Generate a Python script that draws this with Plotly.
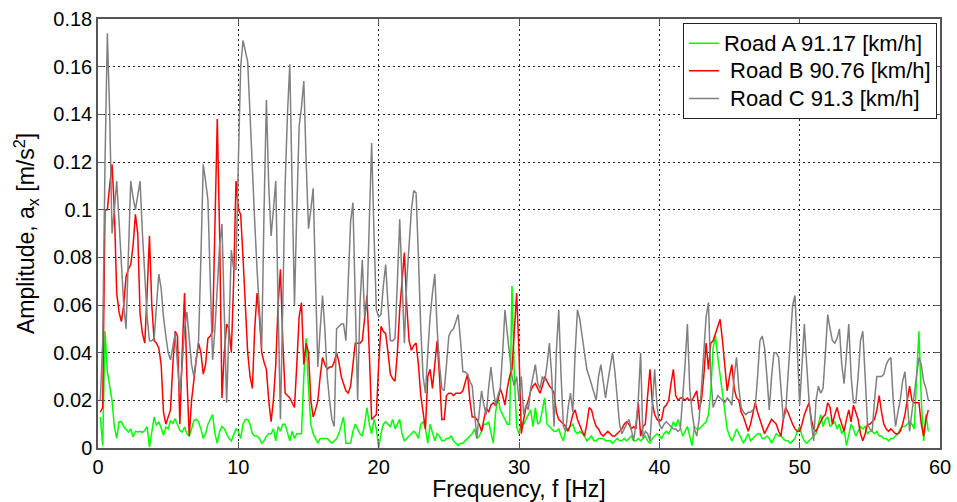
import numpy as np
import plotly.graph_objects as go

# Spectrum resolution of the acceleration FFT (Hz per bin)
df = 1.0 / 6.0

# Amplitude spectra, a_x [m/s^2], one value per bin starting at df
road_a = [
    0.013, 0.001, 0.049, 0.032, 0.026, 0.02,
    0.009, 0.004, 0.011, 0.011, 0.009, 0.008,
    0.0067, 0.008, 0.0046, 0.007, 0.0067, 0.007,
    0.0065, 0.0074, 0.009, 0.0004, 0.006, 0.013,
    0.0095, 0.011, 0.0084, 0.0053, 0.0088, 0.008,
    0.0116, 0.0102, 0.0123, 0.0095, 0.0074, 0.0067,
    0.0088, 0.006, 0.005, 0.008, 0.0116, 0.012,
    0.011, 0.008, 0.004, 0.006, 0.01, 0.012,
    0.014, 0.006, 0.002, 0.007, 0.009, 0.008,
    0.006, 0.004, 0.003, 0.006, 0.008, 0.007,
    0.004, 0.01, 0.012, 0.012, 0.01, 0.006,
    0.005, 0.005, 0.004, 0.002, 0.003, 0.005,
    0.006, 0.006, 0.008, 0.003, 0.009, 0.007,
    0.01, 0.01, 0.006, 0.003, 0.007, 0.004,
    0.006, 0.006, 0.006, 0.03, 0.046, 0.025,
    0.01, 0.006, 0.004, 0.002, 0.004, 0.004,
    0.004, 0.004, 0.003, 0.002, 0.003, 0.004,
    0.006, 0.01, 0.013, 0.002, 0.002, 0.002,
    0.007, 0.01, 0.008, 0.006, 0.005, 0.01,
    0.017, 0.01, 0.006, 0.012, 0.008, 0.0,
    0.006, 0.01, 0.011, 0.01, 0.009, 0.012,
    0.008, 0.01, 0.012, 0.006, 0.003, 0.004,
    0.005, 0.006, 0.007, 0.006, 0.004, 0.01,
    0.011, 0.008, 0.002, 0.01, 0.007, 0.003,
    0.006, 0.005, 0.003, 0.003, 0.004, 0.004,
    0.005, 0.003, 0.002, 0.001, 0.002, 0.002,
    0.003, 0.004, 0.005, 0.006, 0.008, 0.004,
    0.005, 0.007, 0.01, 0.01, 0.011, 0.006,
    0.002, 0.015, 0.021, 0.016, 0.014, 0.012,
    0.01, 0.01, 0.068, 0.03, 0.009, 0.006,
    0.011, 0.01, 0.012, 0.014, 0.016, 0.009,
    0.017, 0.01, 0.011, 0.016, 0.021, 0.01,
    0.009, 0.008, 0.007, 0.007, 0.008, 0.005,
    0.003, 0.008, 0.008, 0.009, 0.01, 0.007,
    0.006, 0.007, 0.006, 0.005, 0.003, 0.004,
    0.005, 0.003, 0.003, 0.004, 0.004, 0.004,
    0.003, 0.003, 0.003, 0.002, 0.003, 0.004,
    0.003, 0.003, 0.004, 0.003, 0.004, 0.005,
    0.003, 0.003, 0.004, 0.003, 0.004, 0.005,
    0.003, 0.002, 0.004, 0.005, 0.006, 0.005,
    0.004, 0.006, 0.007, 0.006, 0.008, 0.011,
    0.009, 0.012, 0.008, 0.005, 0.007, 0.009,
    0.005, 0.001, 0.009, 0.008, 0.008, 0.009,
    0.01, 0.011, 0.014, 0.024, 0.042, 0.047,
    0.038, 0.031, 0.024, 0.016, 0.008, 0.005,
    0.003, 0.005, 0.008, 0.006, 0.004, 0.002,
    0.004, 0.006, 0.003, 0.004, 0.005, 0.006,
    0.006, 0.004, 0.004, 0.005, 0.004, 0.002,
    0.004, 0.006, 0.005, 0.005, 0.004, 0.003,
    0.003, 0.002, 0.003, 0.004, 0.007, 0.009,
    0.005, 0.003, 0.002, 0.003, 0.004, 0.005,
    0.006, 0.01, 0.014, 0.009, 0.012, 0.013,
    0.009, 0.01, 0.011, 0.008, 0.01, 0.006,
    0.008, 0.001, 0.005, 0.01, 0.008, 0.005,
    0.007, 0.009, 0.008, 0.009, 0.006, 0.007,
    0.007, 0.006, 0.007, 0.005, 0.005, 0.004,
    0.004, 0.003, 0.004, 0.004, 0.005, 0.006,
    0.008, 0.009, 0.009, 0.01, 0.011, 0.01,
    0.008, 0.03, 0.049, 0.02, 0.003, 0.014,
    0.007,
]

road_b = [
    0.015, 0.017, 0.1, 0.1, 0.11, 0.119,
    0.1, 0.065, 0.057, 0.053, 0.06, 0.072,
    0.075, 0.077, 0.085, 0.098, 0.09, 0.056,
    0.048, 0.044, 0.065, 0.089, 0.06, 0.045,
    0.044, 0.042, 0.035, 0.015, 0.01, 0.013,
    0.016, 0.035, 0.049, 0.047, 0.01, 0.04,
    0.065, 0.03, 0.005, 0.02, 0.03, 0.037,
    0.044, 0.04, 0.031, 0.035, 0.046, 0.047,
    0.049, 0.09, 0.138, 0.09, 0.021, 0.04,
    0.052, 0.05, 0.04, 0.07, 0.112, 0.1,
    0.098, 0.08, 0.06, 0.04, 0.03, 0.025,
    0.05, 0.065, 0.055, 0.04, 0.036, 0.033,
    0.02, 0.011, 0.02, 0.035, 0.06, 0.075,
    0.045, 0.023, 0.022, 0.021, 0.019, 0.017,
    0.035, 0.055, 0.061, 0.035, 0.044, 0.04,
    0.02, 0.013, 0.016, 0.02, 0.03, 0.038,
    0.035, 0.033, 0.034, 0.034, 0.036, 0.04,
    0.036, 0.03, 0.027, 0.024, 0.023, 0.026,
    0.035, 0.044, 0.044, 0.044, 0.045, 0.055,
    0.064, 0.04, 0.012, 0.013, 0.014, 0.035,
    0.051, 0.049, 0.048, 0.04, 0.031, 0.029,
    0.028, 0.04, 0.058, 0.07, 0.082, 0.06,
    0.045, 0.041, 0.043, 0.044, 0.035, 0.022,
    0.015, 0.008, 0.03, 0.033, 0.025, 0.035,
    0.045, 0.03, 0.012, 0.012, 0.022, 0.023,
    0.023, 0.022, 0.023, 0.023, 0.023, 0.024,
    0.027, 0.031, 0.02, 0.013, 0.013, 0.012,
    0.01, 0.007, 0.012, 0.017, 0.015, 0.018,
    0.019, 0.018, 0.02, 0.025, 0.022, 0.018,
    0.025, 0.03, 0.033, 0.05, 0.065, 0.04,
    0.006, 0.012, 0.017, 0.02, 0.024, 0.026,
    0.027, 0.025, 0.023, 0.026, 0.03, 0.028,
    0.026, 0.025, 0.023, 0.015, 0.012, 0.011,
    0.01, 0.009, 0.007, 0.01, 0.014, 0.016,
    0.012, 0.009, 0.007, 0.005, 0.01, 0.017,
    0.016, 0.012, 0.009, 0.008, 0.006, 0.005,
    0.006, 0.007, 0.006, 0.005, 0.005, 0.006,
    0.007, 0.008, 0.01, 0.011, 0.01, 0.008,
    0.009, 0.008, 0.019, 0.005, 0.009, 0.01,
    0.022, 0.033, 0.019, 0.014, 0.012, 0.011,
    0.012, 0.017, 0.018, 0.02, 0.027, 0.033,
    0.022, 0.02, 0.021, 0.021, 0.02, 0.021,
    0.02, 0.02, 0.022, 0.024, 0.016, 0.02,
    0.03, 0.044, 0.033, 0.044, 0.045, 0.048,
    0.052, 0.054, 0.045, 0.035, 0.024, 0.03,
    0.035, 0.025, 0.021, 0.02, 0.015, 0.013,
    0.01, 0.007, 0.01, 0.015, 0.019, 0.015,
    0.012, 0.009, 0.006, 0.008, 0.01, 0.012,
    0.011, 0.01, 0.007, 0.005, 0.012, 0.017,
    0.015, 0.012, 0.01, 0.008, 0.007, 0.007,
    0.01, 0.014, 0.017, 0.019, 0.012, 0.008,
    0.007, 0.009, 0.011, 0.013, 0.014, 0.019,
    0.017, 0.01, 0.014, 0.017, 0.013, 0.01,
    0.007, 0.012, 0.016, 0.011, 0.018, 0.015,
    0.012, 0.006, 0.003, 0.006, 0.01, 0.01,
    0.011, 0.012, 0.016, 0.022, 0.015, 0.01,
    0.008, 0.007, 0.008, 0.007, 0.006, 0.006,
    0.007, 0.01, 0.014, 0.02, 0.026, 0.02,
    0.019, 0.019, 0.019, 0.01, 0.005, 0.012,
    0.016,
]

road_c = [
    0.02, 0.045, 0.12, 0.174, 0.14, 0.09,
    0.1, 0.112, 0.095, 0.075, 0.06, 0.05,
    0.08, 0.112, 0.105, 0.1, 0.106, 0.112,
    0.09, 0.07, 0.055, 0.045, 0.045, 0.046,
    0.06, 0.073, 0.067, 0.055, 0.047, 0.04,
    0.037, 0.042, 0.048, 0.035, 0.023, 0.035,
    0.05, 0.057, 0.045, 0.035, 0.03, 0.038,
    0.045, 0.08, 0.119, 0.112, 0.104, 0.07,
    0.037, 0.05, 0.07, 0.085, 0.094, 0.05,
    0.019, 0.05, 0.083, 0.075, 0.075, 0.12,
    0.16, 0.171, 0.166, 0.162, 0.14, 0.115,
    0.095, 0.075, 0.058, 0.042, 0.1, 0.146,
    0.11, 0.089, 0.1, 0.112, 0.06, 0.012,
    0.06, 0.11, 0.14, 0.161, 0.11, 0.06,
    0.1, 0.135, 0.143, 0.154, 0.12, 0.092,
    0.1, 0.109, 0.07, 0.034, 0.05, 0.064,
    0.05, 0.03, 0.02, 0.012, 0.009, 0.05,
    0.051, 0.052, 0.052, 0.045, 0.07, 0.095,
    0.103, 0.06, 0.02, 0.06, 0.079, 0.055,
    0.06, 0.095, 0.128, 0.09, 0.058, 0.055,
    0.056, 0.068, 0.077, 0.06, 0.045, 0.045,
    0.046, 0.07, 0.096, 0.07, 0.044, 0.07,
    0.085, 0.1, 0.108, 0.107, 0.08, 0.05,
    0.03, 0.023, 0.04, 0.055, 0.065, 0.073,
    0.05, 0.035, 0.025, 0.024, 0.035, 0.047,
    0.049, 0.05, 0.053, 0.056, 0.045, 0.032,
    0.032, 0.031, 0.028, 0.026, 0.015, 0.004,
    0.015, 0.024, 0.018, 0.014, 0.025, 0.034,
    0.025, 0.018, 0.022, 0.025, 0.04, 0.058,
    0.048, 0.038, 0.03, 0.026, 0.03, 0.02,
    0.03, 0.014, 0.018, 0.016, 0.025, 0.03,
    0.035, 0.027, 0.025, 0.03, 0.028, 0.035,
    0.044, 0.03, 0.009, 0.041, 0.058, 0.03,
    0.009, 0.007, 0.017, 0.023, 0.015, 0.04,
    0.058, 0.054, 0.047, 0.04, 0.033, 0.03,
    0.027, 0.024, 0.02, 0.03, 0.035, 0.028,
    0.021, 0.028, 0.035, 0.04, 0.032, 0.02,
    0.01, 0.006, 0.008, 0.01, 0.012, 0.008,
    0.003, 0.01, 0.02, 0.04, 0.004, 0.007,
    0.006, 0.003, 0.02, 0.033, 0.018, 0.01,
    0.008, 0.01, 0.011, 0.01, 0.009, 0.008,
    0.008, 0.007, 0.008, 0.02, 0.035, 0.052,
    0.025, 0.015, 0.008, 0.005, 0.012, 0.025,
    0.04, 0.055, 0.061, 0.03, 0.017, 0.02,
    0.022, 0.021, 0.02, 0.019, 0.021, 0.02,
    0.018, 0.03, 0.038, 0.025, 0.017, 0.015,
    0.014, 0.015, 0.015, 0.016, 0.017, 0.03,
    0.045, 0.047, 0.042, 0.03, 0.016, 0.03,
    0.04, 0.04, 0.038, 0.025, 0.012, 0.015,
    0.03, 0.045, 0.06, 0.064, 0.04, 0.018,
    0.035, 0.052, 0.035, 0.02, 0.01, 0.003,
    0.02, 0.026, 0.023, 0.025, 0.04, 0.056,
    0.05, 0.045, 0.044, 0.046, 0.05, 0.035,
    0.027, 0.04, 0.052, 0.03, 0.019, 0.019,
    0.03, 0.045, 0.049, 0.03, 0.01, 0.008,
    0.007, 0.02, 0.03, 0.03, 0.03, 0.031,
    0.035, 0.037, 0.038, 0.02, 0.009, 0.015,
    0.02, 0.028, 0.032, 0.02, 0.007, 0.015,
    0.022, 0.03, 0.038, 0.035, 0.028, 0.025,
    0.02,
]

series_names = [
    "Road A 91.17 [km/h]",
    "\u00a0Road B 90.76 [km/h]",
    "\u00a0Road C 91.3 [km/h]",
]
series_colors = ["#00ff00", "#ff0000", "#808080"]

x_ticks = [0, 10, 20, 30, 40, 50, 60]
y_ticks = [0, 0.02, 0.04, 0.06, 0.08, 0.1, 0.12, 0.14, 0.16, 0.18]
y_tick_text = ["0", "0.02", "0.04", "0.06", "0.08", "0.1", "0.12", "0.14", "0.16", "0.18"]

font_family = "Liberation Sans, Arial, Helvetica, sans-serif"
legend_text_px = 22   # glyph size of the legend entries
legend_row_px = 19    # legend font size, which sets the row pitch

fig = go.Figure()
for name, color, values in zip(series_names, series_colors, [road_a, road_b, road_c]):
    freq = np.arange(1, len(values) + 1) * df
    fig.add_trace(go.Scatter(
        x=freq, y=values, mode="lines",
        name=f'<span style="font-size:{legend_text_px}px">{name}</span>',
        line=dict(color=color, width=1.5),
    ))

axis_common = dict(
    showline=True, linecolor="#555555", linewidth=1.5, mirror="ticks",
    ticks="inside", ticklen=6, tickcolor="#555555", tickwidth=1,
    showgrid=True, gridcolor="#222222", gridwidth=1, griddash="2px,3px",
    zeroline=False, automargin=False,
    tickfont=dict(family=font_family, size=20, color="black"),
)

fig.update_layout(
    width=957, height=502,
    margin=dict(l=98, r=17, t=19, b=54),
    paper_bgcolor="white", plot_bgcolor="white",
    font=dict(family=font_family, color="black"),
    xaxis=dict(
        range=[0, 60], tickvals=x_ticks, ticktext=[str(t) for t in x_ticks],
        title=dict(text="Frequency, f [Hz]", font=dict(size=23), standoff=3),
        **axis_common,
    ),
    yaxis=dict(
        range=[0, 0.18], tickvals=y_ticks, ticktext=y_tick_text,
        title=dict(text="Amplitude, a<sub>x</sub> [m/s<sup>2</sup>]", font=dict(size=23), standoff=12),
        **axis_common,
    ),
    legend=dict(
        x=0.9964, y=0.99, xanchor="right", yanchor="top",
        bgcolor="white", bordercolor="#222222", borderwidth=1,
        font=dict(family=font_family, size=legend_row_px, color="black"),
        tracegroupgap=0,
    ),
    showlegend=True,
)

fig.write_html("out.html")
